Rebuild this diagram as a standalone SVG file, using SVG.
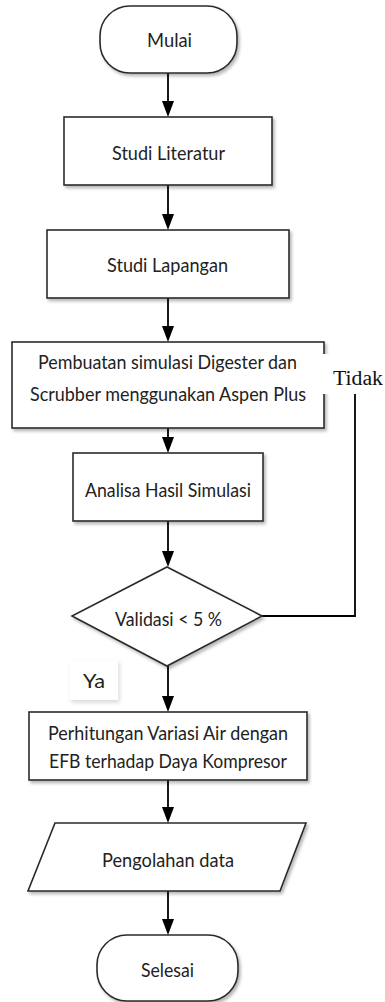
<svg xmlns="http://www.w3.org/2000/svg" width="385" height="1002" viewBox="0 0 385 1002">
<style>
  .shape { fill: #ffffff; stroke: #2a2a2a; stroke-width: 1.6; filter: url(#shadow); }
  .lbl { font-family: Lato, "Open Sans", "DejaVu Sans", sans-serif; font-size: 20px; fill: #222222; text-anchor: start; }
  .serif { font-family: "Liberation Serif", "Times New Roman", serif; font-size: 20px; fill: #111111; }
  .conn { fill: none; stroke: #000000; stroke-width: 1.8; }
  .head { fill: #000000; }
</style>
<defs>
  <filter id="shadow" x="-10%" y="-10%" width="130%" height="140%">
    <feDropShadow dx="2" dy="2.5" stdDeviation="1.5" flood-color="#000000" flood-opacity="0.28"/>
  </filter>
  <filter id="softshadow" x="-20%" y="-20%" width="150%" height="160%">
    <feDropShadow dx="1.5" dy="2.5" stdDeviation="2" flood-color="#000000" flood-opacity="0.15"/>
  </filter>
</defs>

<g id="connectors">
  <path class="conn" d="M168,73 V101"/>
  <path class="head" d="M162,101 L174,101 L168,117 Z"/>
  <path class="conn" d="M168,185 V214"/>
  <path class="head" d="M162,214 L174,214 L168,230 Z"/>
  <path class="conn" d="M168,298 V326"/>
  <path class="head" d="M162,326 L174,326 L168,342 Z"/>
  <path class="conn" d="M168,428 V437"/>
  <path class="head" d="M162,437 L174,437 L168,453 Z"/>
  <path class="conn" d="M168,521 V551"/>
  <path class="head" d="M162,551 L174,551 L168,567 Z"/>
  <path class="conn" d="M168,666 V696"/>
  <path class="head" d="M162,696 L174,696 L168,712 Z"/>
  <path class="conn" d="M168,780 V807"/>
  <path class="head" d="M162,807 L174,807 L168,823 Z"/>
  <path class="conn" d="M168,891 V919"/>
  <path class="head" d="M162,919 L174,919 L168,935 Z"/>
  <path class="conn" d="M262,616 H355 V393"/>
</g>

<g id="mulai">
  <rect class="shape" x="100" y="6" width="137" height="67" rx="30" ry="30"/>
  <text class="lbl" x="147" y="47" textLength="45" lengthAdjust="spacingAndGlyphs">Mulai</text>
</g>

<g id="studi-literatur">
  <rect class="shape" x="64" y="117" width="208" height="68"/>
  <text class="lbl" x="112" y="160" textLength="113" lengthAdjust="spacingAndGlyphs">Studi Literatur</text>
</g>

<g id="studi-lapangan">
  <rect class="shape" x="47" y="230" width="242" height="68"/>
  <text class="lbl" x="107" y="272" textLength="121" lengthAdjust="spacingAndGlyphs">Studi Lapangan</text>
</g>

<g id="pembuatan">
  <rect class="shape" x="12" y="342" width="312" height="86"/>
  <text class="lbl" x="38" y="369" textLength="259" lengthAdjust="spacingAndGlyphs">Pembuatan simulasi Digester dan</text>
  <text class="lbl" x="30" y="401" textLength="276" lengthAdjust="spacingAndGlyphs">Scrubber menggunakan Aspen Plus</text>
</g>

<g id="tidak-label">
  <rect x="322" y="354" width="63" height="40" fill="#ffffff"/>
  <text class="serif" x="333" y="385" textLength="50" lengthAdjust="spacingAndGlyphs">Tidak</text>
</g>

<g id="analisa">
  <rect class="shape" x="73" y="453" width="190" height="68"/>
  <text class="lbl" x="85" y="497" textLength="166" lengthAdjust="spacingAndGlyphs">Analisa Hasil Simulasi</text>
</g>

<g id="validasi">
  <polygon class="shape" points="167,567 262,616 167,666 72,616"/>
  <text class="lbl" x="115" y="626" textLength="107" lengthAdjust="spacingAndGlyphs">Validasi &lt; 5 %</text>
</g>

<g id="ya-label">
  <rect x="70" y="660" width="48" height="40" fill="#ffffff" filter="url(#softshadow)"/>
  <text class="lbl" x="83" y="688" textLength="22" lengthAdjust="spacingAndGlyphs">Ya</text>
</g>

<g id="perhitungan">
  <rect class="shape" x="29" y="712" width="278" height="68"/>
  <text class="lbl" x="48" y="740" textLength="240" lengthAdjust="spacingAndGlyphs">Perhitungan Variasi Air dengan</text>
  <text class="lbl" x="49" y="768" textLength="238" lengthAdjust="spacingAndGlyphs">EFB terhadap Daya Kompresor</text>
</g>

<g id="pengolahan">
  <polygon class="shape" points="55,823 306,823 280,891 28,891"/>
  <text class="lbl" x="102" y="867" textLength="132" lengthAdjust="spacingAndGlyphs">Pengolahan data</text>
</g>

<g id="selesai">
  <rect class="shape" x="97" y="935" width="141" height="66" rx="30" ry="30"/>
  <text class="lbl" x="141" y="977" textLength="53" lengthAdjust="spacingAndGlyphs">Selesai</text>
</g>
</svg>
